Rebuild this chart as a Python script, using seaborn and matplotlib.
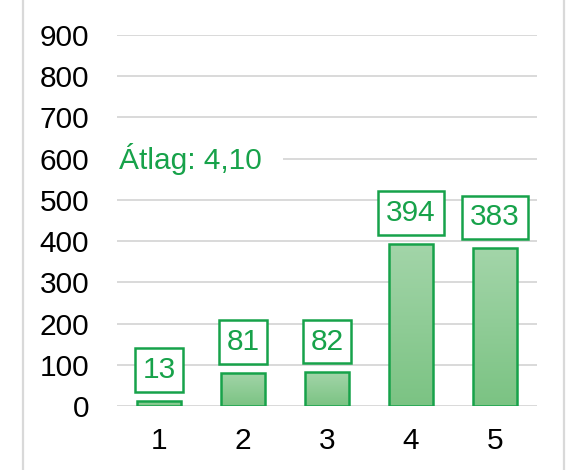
import matplotlib
matplotlib.use("Agg")
import matplotlib.pyplot as plt
import matplotlib.transforms as mtransforms
from matplotlib.colors import LinearSegmentedColormap
from matplotlib.patches import Rectangle
import numpy as np
import pandas as pd
import seaborn as sns

# Data
ratings = ["1", "2", "3", "4", "5"]
counts = [13, 81, 82, 394, 383]
y_ticks = [0, 100, 200, 300, 400, 500, 600, 700, 800, 900]

# weighted mean of the ratings -> "Átlag: 4,10"
avg = sum(int(r) * c for r, c in zip(ratings, counts)) / sum(counts)
avg_label = "Átlag: " + f"{avg:.2f}".replace(".", ",")

green = "#17a24a"
grid_gray = "#d9d9d9"
fs = 21.5

sns.set_style("white")
plt.rcParams["font.family"] = ["Liberation Sans", "DejaVu Sans"]

df = pd.DataFrame({"rating": ratings, "count": counts})

fig = plt.figure(figsize=(5.67, 4.70), dpi=100)
ax = fig.add_axes([117 / 567, 1 - 406 / 470, 420 / 567, 371 / 470])

sns.barplot(data=df, x="rating", y="count", ax=ax, width=0.52,
            color="#8ecb95", saturation=1, edgecolor=green, linewidth=1.8)

# vertical gradient fill inside every bar
cmap = LinearSegmentedColormap.from_list("bar_grad", ["#7bc383", "#a3d5a9"])
grad = np.linspace(0, 1, 256).reshape(-1, 1)
for bar in ax.patches:
    x0, w, h = bar.get_x(), bar.get_width(), bar.get_height()
    im = ax.imshow(grad, extent=[x0, x0 + w, 0, h], origin="lower",
                   aspect="auto", cmap=cmap, zorder=2)
    im.set_clip_path(bar)
    bar.set_facecolor("none")
    bar.set_zorder(3)

ax.set_xlim(-0.5, len(ratings) - 0.5)
ax.set_ylim(0, 900)
ax.set_yticks(y_ticks)

# value labels in green boxes
ax.bar_label(ax.containers[0], padding=12, fontsize=fs, color=green,
             bbox=dict(boxstyle="square,pad=0.26", fc="white", ec=green, lw=1.8),
             zorder=4)

# average text sitting on the 600 gridline
trans = mtransforms.blended_transform_factory(ax.transAxes, ax.transData)
ax.text(0.005, 600, avg_label, transform=trans, ha="left", va="center",
        fontsize=fs, color=green, zorder=4,
        bbox=dict(boxstyle="square,pad=0.7", fc="white", ec="none"))

ax.set_xlabel("")
ax.set_ylabel("")
ax.grid(axis="y", color=grid_gray, linewidth=1.4)
ax.set_axisbelow(True)
for s in ax.spines.values():
    s.set_visible(False)
ax.tick_params(axis="y", length=0, pad=20, labelsize=fs, labelcolor="black")
ax.tick_params(axis="x", length=0, pad=15, labelsize=fs, labelcolor="black")

# outer chart frame (bottom edge runs off the image)
fig.add_artist(Rectangle((23 / 567, -0.1), 541 / 567, 1.1 + 1 - 5 / 470,
                         transform=fig.transFigure, fill=False,
                         edgecolor=grid_gray, linewidth=1.6))

fig.savefig("out.png", dpi=100)
